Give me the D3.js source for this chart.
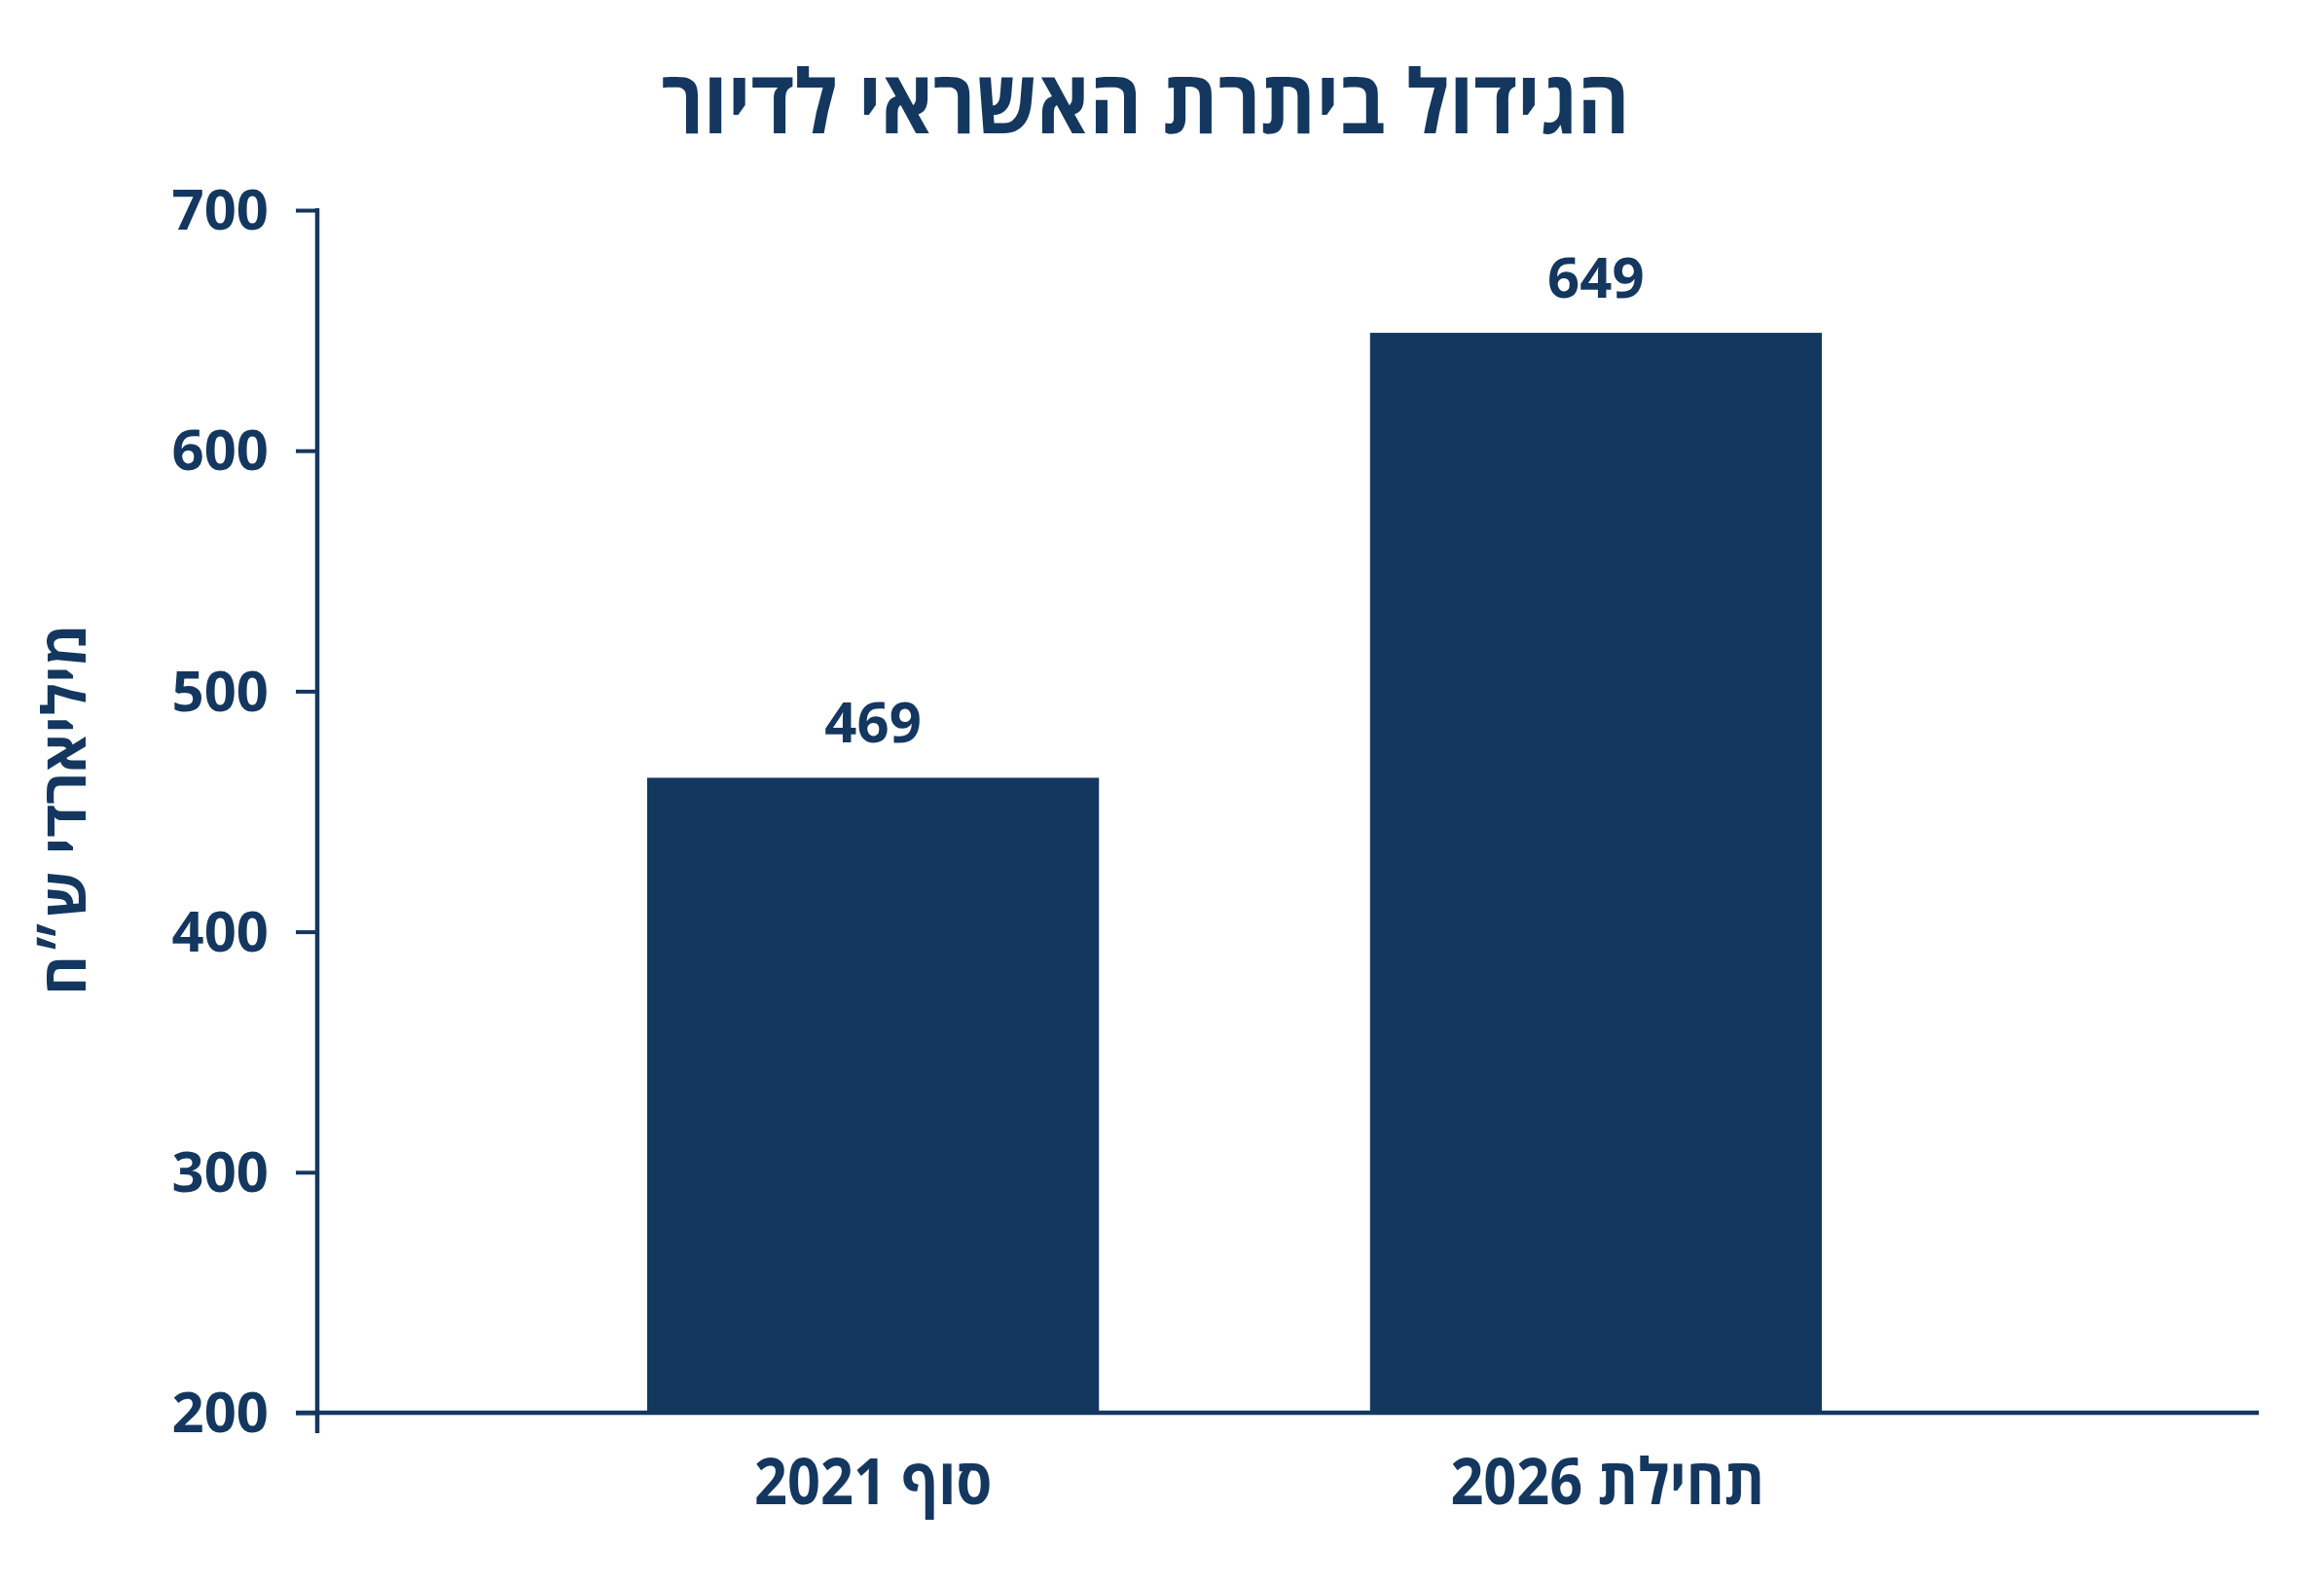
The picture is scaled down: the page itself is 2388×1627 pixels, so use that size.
<!DOCTYPE html>
<html lang="he">
<head>
<meta charset="utf-8">
<script src="https://cdn.jsdelivr.net/npm/d3@7"></script>
<style>
  html, body { margin: 0; padding: 0; background: #ffffff; }
  svg { display: block; }
</style>
</head>
<body>
<svg id="chart" width="2388" height="1627"></svg>
<script>
// ---- data ----
const categories = ["סוף 2021", "תחילת 2026"];
const barValues = [464, 649];          // bar heights as drawn
const valueLabels = ["469", "649"];    // printed labels
const yTicks = [200, 300, 400, 500, 600, 700];
const titleText = "הגידול ביתרת האשראי לדיור";
const yAxisTitle = "מיליארדי ש״ח";

// ---- layout ----
const color = "#14375f";
const svg = d3.select("#chart");

const y = d3.scaleLinear().domain([200, 700]).range([1452, 216]);
const x = d3.scaleBand().domain(categories).range([665, 1872]).paddingInner(0.375).paddingOuter(0);

const axisX = 326;

// title (condensed look)
svg.append("text")
  .attr("transform", "translate(1177,137) scale(0.9,1)")
  .attr("text-anchor", "middle")
  .attr("direction", "rtl")
  .attr("font-family", "'Open Sans', 'Noto Sans', sans-serif")
  .attr("font-weight", 700)
  .attr("font-size", 91)
  .attr("fill", color)
  .text(titleText);

// bars
svg.append("g").selectAll("rect")
  .data(categories)
  .join("rect")
  .attr("x", d => x(d))
  .attr("width", x.bandwidth())
  .attr("y", (d, i) => y(barValues[i]))
  .attr("height", (d, i) => y(200) - y(barValues[i]) + 2)
  .attr("fill", color);

// value labels
svg.append("g").selectAll("text")
  .data(categories)
  .join("text")
  .attr("x", d => x(d) + x.bandwidth() / 2)
  .attr("y", (d, i) => y(barValues[i]) - 36)
  .attr("text-anchor", "middle")
  .attr("font-family", "'Noto Sans', 'Open Sans', sans-serif")
  .attr("font-weight", 700)
  .attr("font-size", 58)
  .attr("fill", color)
  .text((d, i) => valueLabels[i]);

// y axis
const yAxis = d3.axisLeft(y).tickValues(yTicks).tickSize(22).tickSizeOuter(0).tickPadding(28);
const gy = svg.append("g").attr("transform", `translate(${axisX},0)`).call(yAxis);
gy.select(".domain").remove();
gy.selectAll(".tick line").attr("stroke", color).attr("stroke-width", 4);
gy.selectAll(".tick text")
  .attr("fill", color)
  .attr("font-family", "'Noto Sans', 'Open Sans', sans-serif")
  .attr("font-weight", 700)
  .attr("font-size", 58)
  .attr("dy", "0.34em");
gy.append("line")
  .attr("x1", 0).attr("x2", 0)
  .attr("y1", y(700) - 2).attr("y2", 1473)
  .attr("stroke", color).attr("stroke-width", 4.5);

// x baseline
svg.append("line")
  .attr("x1", axisX - 22).attr("x2", 2321)
  .attr("y1", y(200)).attr("y2", y(200))
  .attr("stroke", color).attr("stroke-width", 4.5);

// x labels (condensed look)
svg.append("g").selectAll("text")
  .data(categories)
  .join("text")
  .attr("transform", (d, i) => `translate(${x(d) + x.bandwidth() / 2 + i * 12},1546) scale(0.9,1)`)
  .attr("text-anchor", "middle")
  .attr("direction", "rtl")
  .attr("font-family", "'Open Sans', 'Noto Sans', sans-serif")
  .attr("font-weight", 700)
  .attr("font-size", 66)
  .attr("fill", color)
  .text(d => d);

// y axis title
svg.append("text")
  .attr("transform", "translate(88,832) rotate(-90)")
  .attr("text-anchor", "middle")
  .attr("direction", "rtl")
  .attr("font-family", "'Open Sans', 'Noto Sans', sans-serif")
  .attr("font-weight", 700)
  .attr("font-size", 62)
  .attr("fill", color)
  .text(yAxisTitle);
</script>
</body>
</html>
